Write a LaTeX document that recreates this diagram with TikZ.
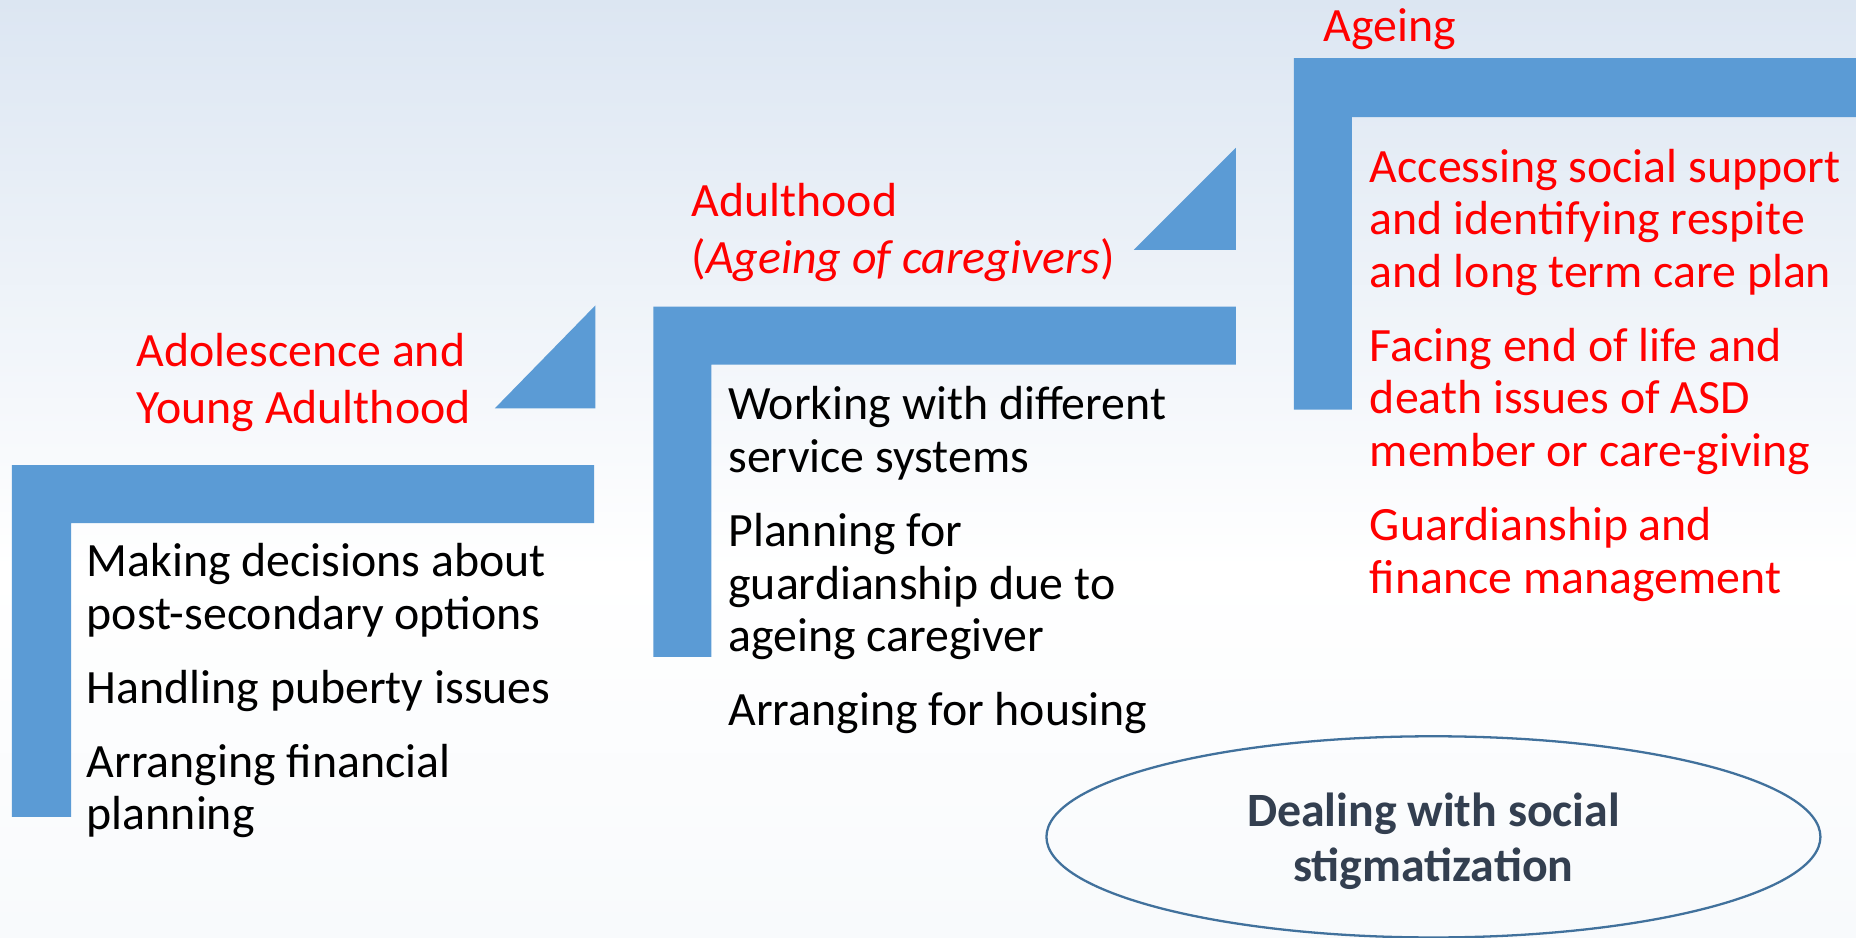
\documentclass[tikz,border=0pt]{standalone}
\usepackage{fontspec}
\setmainfont{Carlito}
\usepackage{tikz}
\usetikzlibrary{shapes,positioning}

\definecolor{stepblue}{HTML}{5B9BD5}
\definecolor{headred}{HTML}{FF0000}
\definecolor{ovalblue}{HTML}{41719C}
\definecolor{ovaltext}{HTML}{333F50}
\definecolor{skyblue}{HTML}{DCE6F2}
\definecolor{paleground}{HTML}{F8FAFC}

\begin{document}
\begin{tikzpicture}[x=0.02cm, y=-0.02cm,
    stage/.style={fill=stepblue, draw=none},
    heading/.style={text=headred, font=\fontsize{23}{27.6}\selectfont, align=left, inner sep=0pt, anchor=base west},
    tasks/.style={font=\fontsize{23}{25.3}\selectfont, align=left, inner sep=0pt, anchor=base west}]
        \useasboundingbox (0,0) rectangle (1568,792);

        % Background
        \shade[top color=skyblue, bottom color=white] (0,0) rectangle (1568,480);
        \shade[top color=white, bottom color=paleground] (0,480) rectangle (1568,792);

        % Adolescence and young adulthood (nodes sit on their last baseline)
        \fill[stage] (10,393) -- (502,393) -- (502,442) -- (60,442) -- (60,690) -- (10,690) -- cycle;
        \fill[stage] (418,345) -- (503,345) -- (503,258) -- cycle;
        \node[heading] (youth) at (115,358) {Adolescence and\\Young Adulthood};
        \node[tasks] (youthtasks) at (73,701) {Making decisions about\\post-secondary options\\[0.36cm]Handling puberty issues\\[0.36cm]Arranging financial\\planning};

        % Adulthood
        \fill[stage] (552,259) -- (1044,259) -- (1044,308) -- (601,308) -- (601,555) -- (552,555) -- cycle;
        \fill[stage] (958,211) -- (1044,211) -- (1044,125) -- cycle;
        \node[heading] (adult) at (584,231) {Adulthood\\(\textit{Ageing of caregivers})};
        \node[tasks] (adulttasks) at (615,613) {Working with different\\service systems\\[0.36cm]Planning for\\guardianship due to\\ageing caregiver\\[0.36cm]Arranging for housing};

        % Ageing
        \fill[stage] (1093,49) -- (1570,49) -- (1570,99) -- (1142,99) -- (1142,346) -- (1093,346) -- cycle;
        \node[heading] (ageing) at (1118,35) {Ageing};
        \node[tasks, text=headred] (ageingtasks) at (1157,501) {Accessing social support\\and identifying respite\\and long term care plan\\[0.36cm]Facing end of life and\\death issues of ASD\\member or care-giving\\[0.36cm]Guardianship and\\finance management};

        % Stigma
        \node[ellipse, draw=ovalblue, line width=1.1pt, minimum width=13.08cm, minimum height=3.4cm] (stigma) at (1211,707) {};
        \node[align=center, text=ovaltext, font=\fontsize{23}{26.6}\selectfont\bfseries] (stigmatext) at (1211,711) {Dealing with social\\stigmatization};
\end{tikzpicture}
\end{document}
